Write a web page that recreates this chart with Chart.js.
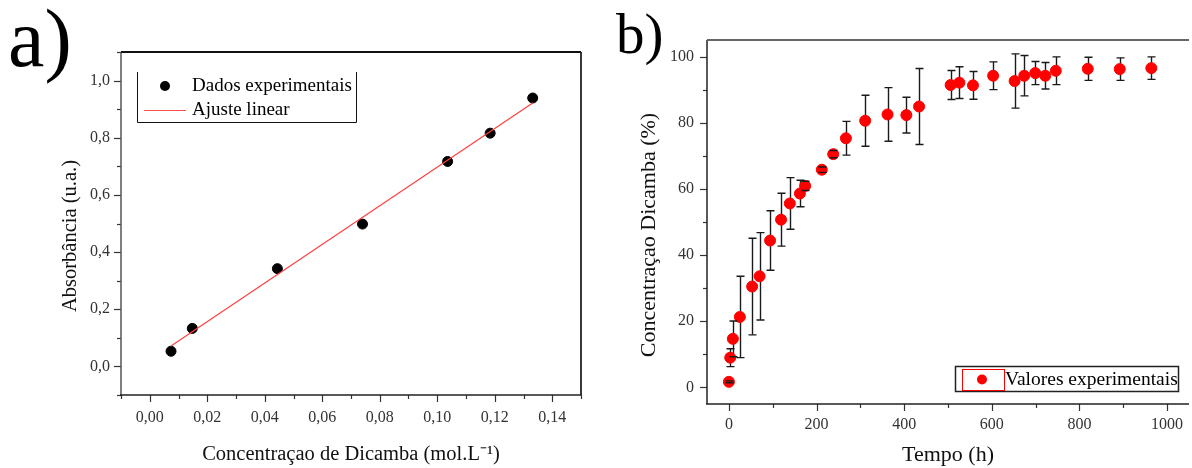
<!DOCTYPE html>
<html>
<head>
<meta charset="utf-8">
<script src="https://cdn.jsdelivr.net/npm/chart.js@4.4.1/dist/chart.umd.min.js"></script>
<style>
  html, body { margin: 0; padding: 0; background: #fff; overflow: hidden; }
  body { width: 1192px; height: 468px; position: relative; font-family: "Liberation Serif", serif; }
  .panel { position: absolute; top: 0; height: 468px; width: 600px; }
  #boxA { left: 0; }
  #boxB { left: 600px; }
  .tag { position: absolute; line-height: 1; color: #000; font-family: "Liberation Serif", serif; }
</style>
</head>
<body>
<div class="tag" style="left:8px;top:-2px;font-size:82px">a)</div>
<div class="tag" style="left:616px;top:5px;font-size:57px">b)</div>
<div class="panel" id="boxA"><canvas id="chartA"></canvas></div>
<div class="panel" id="boxB"><canvas id="chartB"></canvas></div>
<script>
// a) calibration curve
const concMol = [0.0074, 0.0148, 0.0444, 0.074, 0.1036, 0.1184, 0.1332];
const absorb = [0.053, 0.133, 0.342, 0.498, 0.717, 0.816, 0.939];
const fitX = [0.0074, 0.1332];
const fitY = [0.071, 0.922];

// b) dicamba release over time
const tempoH = [0, 3, 9, 25, 53, 70, 94, 119, 139, 162, 174, 212, 238, 267, 311,
  362, 405, 434, 506, 526, 557, 603, 652, 674, 699, 722, 746, 819, 892, 964];
const concPct = [1.7, 9.0, 14.7, 21.3, 30.5, 33.6, 44.4, 50.7, 55.6, 58.6, 60.9, 65.8, 70.5, 75.3, 80.6,
  82.5, 82.3, 84.9, 91.4, 92.1, 91.3, 94.2, 92.6, 94.2, 95.0, 94.2, 95.7, 96.3, 96.2, 96.5];
const concErr = [0.3, 2.7, 5.4, 12.3, 14.6, 13.2, 9.0, 8.0, 7.8, 4.0, 1.4, 0.8, 1.1, 5.1, 7.7,
  8.1, 5.4, 11.5, 4.4, 4.8, 4.2, 4.2, 8.2, 6.1, 3.5, 4.0, 4.2, 3.5, 3.4, 3.4];

const SERIF = "'Liberation Serif', 'Times New Roman', serif";

// outward tick marks (major / minor) plus the plot frame
function makeFrame(kindOf, sides) {
  return {
    id: 'frame',
    afterDraw(chart) {
      const { ctx, chartArea: a } = chart;
      ctx.save();
      ctx.strokeStyle = '#333';
      ctx.lineWidth = 1.2;
      ['x', 'y'].forEach(id => {
        const s = chart.scales[id];
        s.ticks.forEach(t => {
          const kind = kindOf(id, t.value);
          if (!kind) return;
          const len = kind === 2 ? 7 : 4;
          const p = Math.round(s.getPixelForValue(t.value)) + 0.5;
          ctx.beginPath();
          if (id === 'x') { ctx.moveTo(p, a.bottom); ctx.lineTo(p, a.bottom + len); }
          else { ctx.moveTo(a.left, p); ctx.lineTo(a.left - len, p); }
          ctx.stroke();
        });
      });
      sides.forEach(sd => {
        ctx.beginPath();
        ctx.strokeStyle = sd.color;
        ctx.lineWidth = sd.width;
        if (sd.side === 'top') { ctx.moveTo(a.left, a.top); ctx.lineTo(a.right, a.top); }
        if (sd.side === 'bottom') { ctx.moveTo(a.left - 1, a.bottom); ctx.lineTo(a.right, a.bottom); }
        if (sd.side === 'left') { ctx.moveTo(a.left, a.top); ctx.lineTo(a.left, a.bottom); }
        if (sd.side === 'right') { ctx.moveTo(a.right, a.top); ctx.lineTo(a.right, a.bottom); }
        ctx.stroke();
      });
      ctx.restore();
    }
  };
}

// rotated y title, centred a bit below the middle of the axis like the original
function makeYTitle(text, cx, cy, size) {
  return {
    id: 'yTitle',
    afterDraw(chart) {
      const { ctx } = chart;
      ctx.save();
      ctx.translate(cx, cy);
      ctx.rotate(-Math.PI / 2);
      ctx.textAlign = 'center';
      ctx.textBaseline = 'middle';
      ctx.fillStyle = '#111';
      ctx.font = size + 'px ' + SERIF;
      ctx.fillText(text, 0, 0);
      ctx.restore();
    }
  };
}

const legendA = {
  id: 'legendA',
  afterDraw(chart) {
    const { ctx, chartArea: a } = chart;
    const x0 = a.left + 16, x1 = a.left + 235, y0 = a.top + 20, y1 = a.top + 70;
    ctx.save();
    ctx.strokeStyle = '#111';
    ctx.lineWidth = 1;
    ctx.beginPath();
    ctx.moveTo(x0 + 0.5, y0); ctx.lineTo(x0 + 0.5, y1 + 0.5);
    ctx.lineTo(x1 + 0.5, y1 + 0.5); ctx.lineTo(x1 + 0.5, y0);
    ctx.stroke();
    ctx.fillStyle = '#000';
    ctx.beginPath();
    ctx.arc(x0 + 28, y0 + 14, 5, 0, Math.PI * 2);
    ctx.fill();
    ctx.strokeStyle = '#ff5050';
    ctx.beginPath();
    ctx.moveTo(x0 + 7, y0 + 38.5); ctx.lineTo(x0 + 49, y0 + 38.5);
    ctx.stroke();
    ctx.font = '19px ' + SERIF;
    ctx.textBaseline = 'middle';
    ctx.fillText('Dados experimentais', x0 + 55, y0 + 14);
    ctx.fillText('Ajuste linear', x0 + 55, y0 + 38);
    ctx.restore();
  }
};

const errorBars = {
  id: 'errorBars',
  draw(chart, caps) {
    const { ctx } = chart;
    const xs = chart.scales.x, ys = chart.scales.y;
    ctx.save();
    ctx.strokeStyle = '#1a1a1a';
    ctx.lineWidth = 1.4;
    tempoH.forEach((t, i) => {
      const x = Math.round(xs.getPixelForValue(t)) + 0.5;
      const yt = ys.getPixelForValue(concPct[i] + concErr[i]);
      const yb = ys.getPixelForValue(concPct[i] - concErr[i]);
      ctx.beginPath();
      if (caps) {
        ctx.moveTo(x - 4, yt); ctx.lineTo(x + 4, yt);
        ctx.moveTo(x - 4, yb); ctx.lineTo(x + 4, yb);
      } else {
        ctx.moveTo(x, yt); ctx.lineTo(x, yb);
      }
      ctx.stroke();
    });
    ctx.restore();
  },
  beforeDatasetsDraw(chart) { this.draw(chart, false); },
  afterDatasetsDraw(chart) { this.draw(chart, true); }
};

const legendB = {
  id: 'legendB',
  afterDraw(chart) {
    const { ctx } = chart;
    ctx.save();
    ctx.strokeStyle = '#222';
    ctx.lineWidth = 1.5;
    ctx.strokeRect(355.5, 366.5, 223, 25);
    ctx.strokeStyle = '#ff0000';
    ctx.lineWidth = 1;
    ctx.strokeRect(362.5, 369.5, 42, 21);
    ctx.fillStyle = '#ff0000';
    ctx.beginPath();
    ctx.arc(382, 379.5, 5, 0, Math.PI * 2);
    ctx.fill();
    ctx.fillStyle = '#000';
    ctx.font = '19.5px ' + SERIF;
    ctx.textBaseline = 'middle';
    ctx.fillText('Valores experimentais', 405, 380);
    ctx.restore();
  }
};

const tickFont = { family: SERIF, size: 16 };

new Chart(document.getElementById('chartA'), {
  type: 'scatter',
  data: {
    datasets: [
      {
        label: 'Dados experimentais',
        data: concMol.map((c, i) => ({ x: c, y: absorb[i] })),
        backgroundColor: '#000',
        borderColor: '#000',
        pointRadius: 5,
        order: 1
      },
      {
        label: 'Ajuste linear',
        data: fitX.map((c, i) => ({ x: c, y: fitY[i] })),
        showLine: true,
        borderColor: '#ff4040',
        borderWidth: 1.2,
        pointRadius: 0,
        order: 0
      }
    ]
  },
  options: {
    responsive: true,
    maintainAspectRatio: false,
    animation: false,
    events: [],
    layout: { padding: { left: 0, top: 52, right: 19, bottom: 0 } },
    plugins: { legend: { display: false }, tooltip: { enabled: false } },
    scales: {
      x: {
        type: 'linear',
        min: -0.01,
        max: 0.15,
        afterFit: s => { s.height = 73; },
        border: { display: false },
        grid: { display: false, drawTicks: false },
        ticks: {
          stepSize: 0.01,
          autoSkip: false,
          maxRotation: 0,
          padding: 13,
          color: '#333',
          font: tickFont,
          callback: v => {
            const k = Math.round(v * 100);
            return (k >= 0 && k <= 14 && k % 2 === 0) ? (k / 100).toFixed(2).replace('.', ',') : '';
          }
        },
        title: {
          display: true,
          text: 'Concentraçao de Dicamba (mol.L⁻¹)',
          color: '#111',
          font: { family: SERIF, size: 20.5, lineHeight: 1.2 },
          padding: { top: 0, bottom: 1 }
        }
      },
      y: {
        min: -0.1,
        max: 1.1,
        afterFit: s => { s.width = 121; },
        border: { display: false },
        grid: { display: false, drawTicks: false },
        ticks: {
          stepSize: 0.1,
          autoSkip: false,
          padding: 11,
          color: '#333',
          font: tickFont,
          callback: v => {
            const k = Math.round(v * 10);
            return (k >= 0 && k <= 10 && k % 2 === 0) ? (k / 10).toFixed(1).replace('.', ',') : '';
          }
        },
        title: { display: false }
      }
    }
  },
  plugins: [
    makeFrame((id, v) => {
      const k = Math.round(v * (id === 'x' ? 100 : 10));
      return k % 2 === 0 ? 2 : 1;
    }, [
      { side: 'left', color: '#555', width: 1.5 },
      { side: 'bottom', color: '#222', width: 1.5 },
      { side: 'top', color: '#111', width: 2 },
      { side: 'right', color: '#222', width: 1.8 }
    ]),
    makeYTitle('Absorbância (u.a.)', 71, 236, 20.5),
    legendA
  ]
});

new Chart(document.getElementById('chartB'), {
  type: 'scatter',
  data: {
    datasets: [{
      label: 'Valores experimentais',
      data: tempoH.map((t, i) => ({ x: t, y: concPct[i] })),
      backgroundColor: '#ff0000',
      borderColor: '#ff0000',
      pointRadius: 5.5
    }]
  },
  options: {
    responsive: true,
    maintainAspectRatio: false,
    animation: false,
    events: [],
    layout: { padding: { left: 0, top: 40, right: 6, bottom: 0 } },
    plugins: { legend: { display: false }, tooltip: { enabled: false } },
    scales: {
      x: {
        type: 'linear',
        min: -50,
        max: 1050,
        afterFit: s => { s.height = 64; },
        border: { display: false },
        grid: { display: false, drawTicks: false },
        ticks: {
          stepSize: 50,
          autoSkip: false,
          maxRotation: 0,
          padding: 11,
          color: '#333',
          font: tickFont,
          callback: v => (v % 200 === 0 && v >= 0 && v <= 1000) ? String(v) : ''
        },
        title: {
          display: true,
          text: 'Tempo (h)',
          color: '#111',
          font: { family: SERIF, size: 22, lineHeight: 1.2 },
          padding: { top: 0, bottom: 0 }
        }
      },
      y: {
        min: -5,
        max: 105,
        afterFit: s => { s.width = 107; },
        border: { display: false },
        grid: { display: false, drawTicks: false },
        ticks: {
          stepSize: 5,
          autoSkip: false,
          padding: 13,
          color: '#333',
          font: tickFont,
          callback: v => (v % 20 === 0 && v >= 0 && v <= 100) ? String(v) : ''
        },
        title: { display: false }
      }
    }
  },
  plugins: [
    makeFrame((id, v) => {
      const major = id === 'x' ? 200 : 20, minor = id === 'x' ? 100 : 10;
      if (v % major === 0) return 2;
      if (v % minor === 0) return 1;
      return 0;
    }, [
      { side: 'left', color: '#222', width: 1.5 },
      { side: 'bottom', color: '#222', width: 1.5 },
      { side: 'top', color: '#666', width: 2 }
    ]),
    makeYTitle('Concentraçao Dicamba (%)', 49, 235, 22),
    errorBars,
    legendB
  ]
});
</script>
</body>
</html>
